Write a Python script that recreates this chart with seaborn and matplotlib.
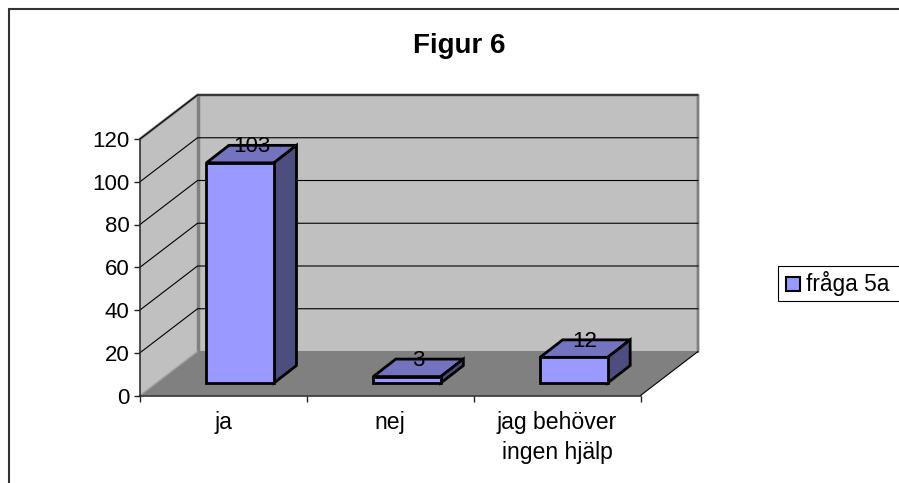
# -*- coding: utf-8 -*-
"""Figur 6 - Excel style 3D bars"""

import pandas as pd
import matplotlib
matplotlib.use('Agg')
import matplotlib.pyplot as plt
import seaborn as sns
from matplotlib.lines import Line2D
from matplotlib.patches import Polygon, Rectangle

categories = ['ja', 'nej', 'jag behöver\ningen hjälp']
values = [103, 3, 12]
series_name = 'fråga 5a'
y_ticks = [0, 20, 40, 60, 80, 100, 120]

W, H = 899, 483
FRONT = '#9999FF'
TOP = '#7373BF'
SIDE = '#4D4D80'
WALL = '#C0C0C0'
FLOOR = '#808080'
EDGE = '#808080'
FS = 16

sns.set_theme(style='white')
plt.rcParams['font.family'] = ['Liberation Sans', 'DejaVu Sans']

df = pd.DataFrame({'svar': categories, 'antal': values})

fig = plt.figure(figsize=(W / 100, H / 100), dpi=100)


def fig_line(xs, ys, color='black', lw=1.0):
    # pixel positions, origin top left
    fig.add_artist(Line2D([x / W for x in xs], [1 - y / H for y in ys], color=color, lw=lw,
                          transform=fig.transFigure, solid_capstyle='butt'))


# only left and top of the frame are on the picture
fig_line([9, 9], [8, H], color='#333333', lw=1.5)
fig_line([8, W], [9, 9], color='#333333', lw=1.5)

# axes sit on the front plane of the 3D box
left, right, bottom, top = 140, 640.5, 395.5, 139
ax = fig.add_axes([left / W, 1 - bottom / H, (right - left) / W, (bottom - top) / H])
ax.patch.set_visible(False)

sns.barplot(data=df, x='svar', y='antal', ax=ax, color=FRONT, saturation=1, width=0.405, zorder=5)
ax.set_xlim(-0.5, 2.5)
ax.set_ylim(0, 120)

# px sizes to data units
ux = (right - left) / 3
uy = (bottom - top) / 120
wall_dx, wall_dy = 57.5 / ux, 44 / uy
bar_dx, bar_dy = 22.5 / ux, 17.5 / uy
shift_x, shift_y = 16.8 / ux, 12.5 / uy


def poly(pts, fc, ec='none', lw=0, z=1):
    ax.add_patch(Polygon(pts, closed=True, facecolor=fc, edgecolor=ec, linewidth=lw,
                         zorder=z, clip_on=False, joinstyle='miter'))


x0, x1 = -0.5, 2.5
# floor and walls
poly([(x0, 0), (x1, 0), (x1 + wall_dx, wall_dy), (x0 + wall_dx, wall_dy)], FLOOR)
poly([(x0 + wall_dx, wall_dy), (x1 + wall_dx, wall_dy), (x1 + wall_dx, 120 + wall_dy),
      (x0 + wall_dx, 120 + wall_dy)], WALL)
poly([(x0, 0), (x0 + wall_dx, wall_dy), (x0 + wall_dx, 120 + wall_dy), (x0, 120)], WALL)
ax.plot([x0, x0 + wall_dx, x1 + wall_dx, x1 + wall_dx],
        [120, 120 + wall_dy, 120 + wall_dy, wall_dy], color=EDGE, lw=2, zorder=2, clip_on=False)
ax.plot([x0 + wall_dx, x0 + wall_dx], [wall_dy, 120 + wall_dy], color=EDGE, lw=2.5, zorder=2, clip_on=False)
ax.plot([x0 + wall_dx, x1 + wall_dx], [wall_dy, wall_dy], color=EDGE, lw=1.5, zorder=2, clip_on=False)
ax.plot([x0, x0 + wall_dx], [0, wall_dy], color='#A0A0A0', lw=1, zorder=2, clip_on=False)
ax.plot([x1, x1 + wall_dx], [0, wall_dy], color='black', lw=0.8, zorder=2, clip_on=False)

# gridlines run along side wall and back wall
for t in y_ticks[1:]:
    ax.plot([x0, x0 + wall_dx, x1 + wall_dx], [t, t + wall_dy, t + wall_dy],
            color='black', lw=0.8, zorder=3, clip_on=False)

# move front faces, then add top and side faces
for bar, val in zip(ax.patches, values):
    if not isinstance(bar, Rectangle) or bar.get_height() != val:
        continue
    bar.set_x(bar.get_x() + shift_x)
    bar.set_y(shift_y)
    bar.set_edgecolor('black')
    bar.set_linewidth(2)
    bar.set_joinstyle('miter')
    bar.set_clip_on(False)
    xa, xb = bar.get_x(), bar.get_x() + bar.get_width()
    ya, yb = shift_y, shift_y + val
    poly([(xa, yb), (xb, yb), (xb + bar_dx, yb + bar_dy), (xa + bar_dx, yb + bar_dy)], TOP, 'black', 2, 4)
    poly([(xb, ya), (xb + bar_dx, ya + bar_dy), (xb + bar_dx, yb + bar_dy), (xb, yb)], SIDE, 'black', 2, 4)
    # value labels lie over the top face
    ax.text((xa + xb) / 2 + bar_dx / 2, yb + bar_dy - 0.7, str(val), ha='center', va='center',
            fontsize=FS, color='black', zorder=6)

# axes cosmetics
for side in ['top', 'right']:
    ax.spines[side].set_visible(False)
for side in ['left', 'bottom']:
    ax.spines[side].set_color('#222222')
    ax.spines[side].set_linewidth(1.1)
    ax.spines[side].set_zorder(7)
ax.set_xlabel('')
ax.set_ylabel('')
ax.set_yticks(y_ticks)
ax.set_xticks([-0.5, 0.5, 1.5, 2.5], labels=['', '', '', ''])
ax.set_xticks([0, 1, 2], labels=categories, minor=True)
ax.tick_params(axis='both', which='major', length=4.5, width=1, color='#222222', left=True, bottom=True,
               direction='out', labelsize=FS, labelcolor='black', pad=3)
ax.tick_params(axis='x', which='minor', length=0, labelsize=16.6, labelcolor='black', pad=11)
for lab in ax.get_xticklabels(minor=True):
    lab.set_linespacing(1.4)

fig.text(459 / W, 1 - 53 / H, 'Figur 6', ha='center', va='baseline', fontsize=20, fontweight='bold', color='black')

# legend box runs off the right edge like in the source
fig_line([777.5, 777.5, W], [300.5, 265.5, 265.5], lw=0.8)
fig_line([777.5, W], [300.5, 300.5], lw=0.8)
fig.add_artist(Rectangle((786 / W, 1 - 291 / H), 14 / W, 14 / H, facecolor=FRONT,
                         edgecolor='black', linewidth=1.5, transform=fig.transFigure))
fig.text(806 / W, 1 - 283 / H, series_name, ha='left', va='center', fontsize=16.4, color='black')

fig.savefig('out.png', dpi=100)
